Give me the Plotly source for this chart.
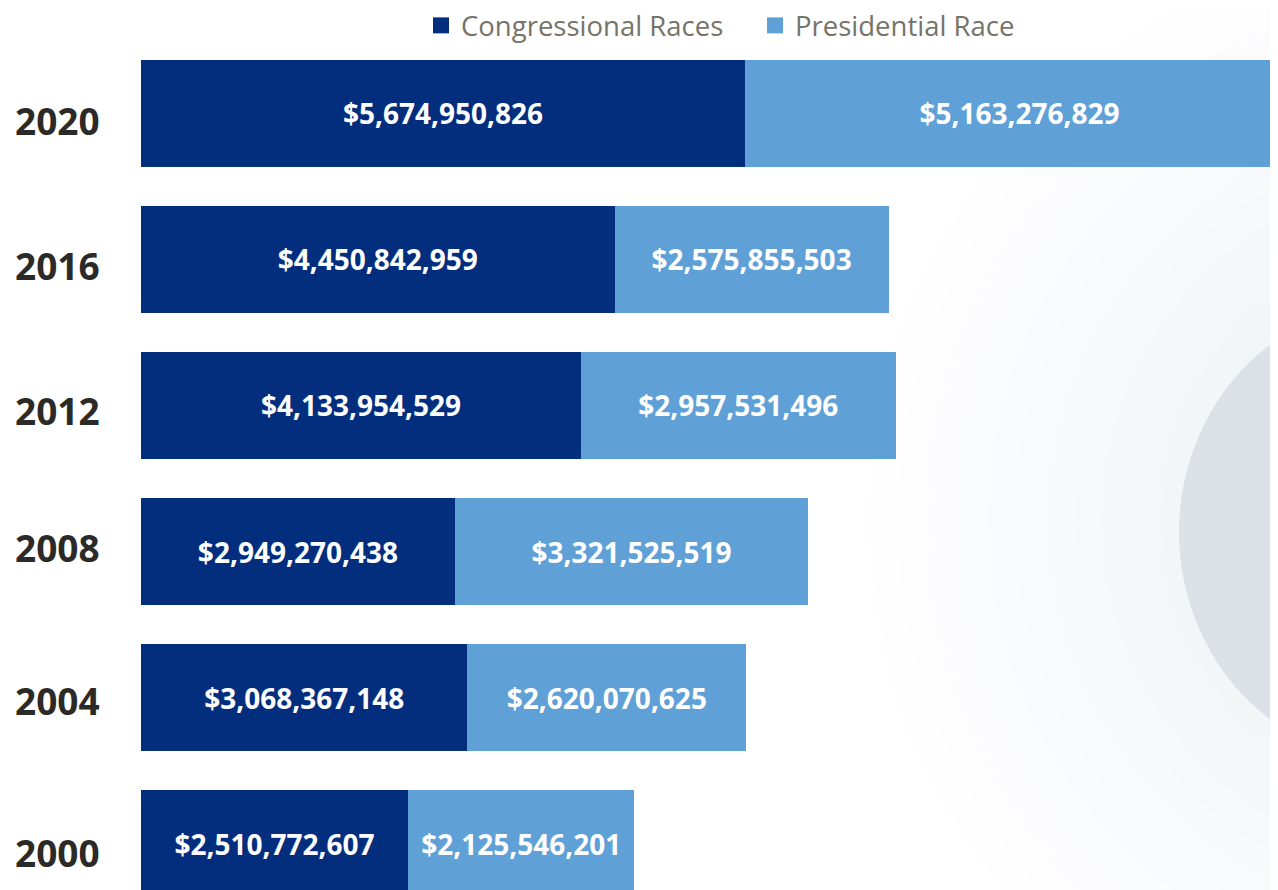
import plotly.graph_objects as go

years = ["2000", "2004", "2008", "2012", "2016", "2020"]
congressional = [2510772607, 3068367148, 2949270438, 4133954529, 4450842959, 5674950826]
presidential = [2125546201, 2620070625, 3321525519, 2957531496, 2575855503, 5163276829]

# page has an 8px body margin, so the figure is shrunk to land on the same pixels
OFF = 8
W, H = 1278 - OFF, 890 - OFF
L, T = 141 - OFF, 55 - OFF

def px_x(p):
    # page pixel -> paper x
    return (p - OFF - L) / (W - L)

def px_y(p):
    # page pixel -> paper y
    return (H - (p - OFF)) / (H - T)

DARK = "#032E7E"
LIGHT = "#5FA0D7"

fig = go.Figure()

bar_text = dict(family="Open Sans", size=28, color="white", weight="bold")

fig.add_trace(go.Bar(
    y=years, x=congressional, orientation="h", name="Congressional Races",
    marker=dict(color=DARK, line=dict(width=0)), showlegend=False,
    texttemplate="$%{x:,}", textposition="inside", insidetextanchor="middle",
    textangle=0, textfont=bar_text,
))
fig.add_trace(go.Bar(
    y=years, x=presidential, orientation="h", name="Presidential Race",
    marker=dict(color=LIGHT, line=dict(width=0)), showlegend=False,
    texttemplate="$%{x:,}", textposition="inside", insidetextanchor="middle",
    textangle=0, textfont=bar_text,
))
# legend entries with bigger square swatches
for name, col in [("Congressional Races", DARK), ("Presidential Race", LIGHT)]:
    fig.add_trace(go.Scatter(
        x=[None], y=[None], mode="markers", name=name,
        marker=dict(symbol="square", size=16, color=col),
    ))

# year labels sit a little off the bar centres in the original
label_nudge = [8.5, 2.5, -4, 5.5, 6.5, 7]
annotations = []
for i, (yr, dy) in enumerate(zip(years, label_nudge)):
    annotations.append(dict(
        text=yr, xref="paper", x=0, xanchor="right", xshift=-39,
        yref="y", y=i, yanchor="middle", yshift=-dy, showarrow=False,
        font=dict(family="Open Sans", size=37, color="#2b2a26", weight="bold"),
    ))

# soft background decoration on the right
shapes = []
steps = 12
c0 = (254, 254, 255)
c1 = (242, 245, 248)
for i in range(steps):
    f = i / (steps - 1)
    r = 580 - f * (580 - 260)
    col = "rgb(%d,%d,%d)" % tuple(round(a + (b - a) * f) for a, b in zip(c0, c1))
    shapes.append(dict(
        type="circle", xref="paper", yref="paper", layer="below",
        x0=px_x(1450 - r), x1=px_x(1450 + r), y0=px_y(520 + r), y1=px_y(520 - r),
        fillcolor=col, line=dict(width=0),
    ))
shapes.append(dict(
    type="circle", xref="paper", yref="paper", layer="below",
    x0=px_x(1400 - 221), x1=px_x(1400 + 221), y0=px_y(532 + 232), y1=px_y(532 - 232),
    fillcolor="#dce1e7", line=dict(width=0),
))

fig.update_layout(
    width=W, height=H,
    margin=dict(l=L, r=0, t=T, b=0, autoexpand=False),
    barmode="stack", bargap=0.267,
    paper_bgcolor="white", plot_bgcolor="rgba(0,0,0,0)",
    shapes=shapes, annotations=annotations,
    showlegend=True,
    legend=dict(
        orientation="h", x=px_x(421), xanchor="left", y=px_y(OFF - 7), yanchor="top",
        traceorder="normal", font=dict(family="Open Sans", size=27.5, color="#767368"),
        bgcolor="rgba(0,0,0,0)", entrywidth=289, entrywidthmode="pixels",
    ),
    xaxis=dict(range=[0, 10.686e9], visible=False, fixedrange=True),
    yaxis=dict(
        type="category", categoryorder="array", categoryarray=years,
        range=[-0.318, 5.40], showgrid=False, zeroline=False, showline=False,
        ticks="", showticklabels=False,
    ),
)

fig.write_html("out.html")
